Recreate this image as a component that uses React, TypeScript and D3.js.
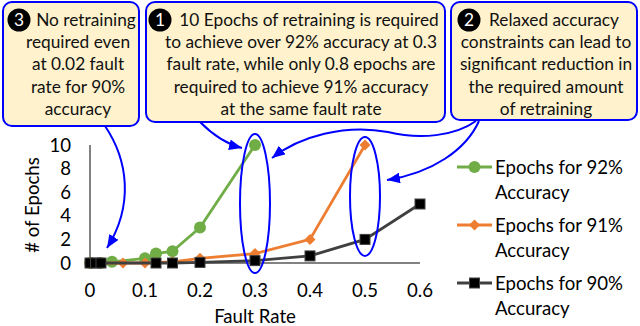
import React from 'react';
import * as d3 from 'd3';

const faultRates92 = [0, 0.02, 0.04, 0.1, 0.12, 0.15, 0.2, 0.3];
const epochs92 = [0, 0, 0.1, 0.4, 0.8, 1.0, 3.0, 10];
const faultRates91 = [0, 0.02, 0.06, 0.1, 0.12, 0.15, 0.2, 0.3, 0.4, 0.5];
const epochs91 = [0, 0, 0, 0, 0.05, 0.1, 0.4, 0.8, 2.0, 10];
const faultRates90 = [0, 0.01, 0.02, 0.12, 0.15, 0.2, 0.3, 0.4, 0.5, 0.6];
const epochs90 = [0, 0, 0, 0, 0, 0.05, 0.2, 0.6, 2.0, 5.0];

const xTicks = [0, 0.1, 0.2, 0.3, 0.4, 0.5, 0.6];
const yTicks = [0, 2, 4, 6, 8, 10];

const seriesNames = ['Epochs for 92%', 'Epochs for 91%', 'Epochs for 90%'];
const seriesColors = ['#70AD47', '#ED7D31', '#404040'];

const note3 = ['No retraining', 'required even', 'at 0.02 fault', 'rate for 90%', 'accuracy'];
const note1 = [
  '10 Epochs of retraining is required',
  'to achieve over 92% accuracy at 0.3',
  'fault rate, while only 0.8 epochs are',
  'required to achieve 91% accuracy',
  'at the same fault rate',
];
const note2 = [
  'Relaxed accuracy',
  'constraints can lead to',
  'significant reduction in',
  'the required amount',
  'of retraining',
];

const FONT = 'Lato, "Open Sans", sans-serif';
const BLUE = '#0000FF';
const BOX_FS = 17.3;
const AX_FS = 18.6;

function App() {
  const x = d3.scaleLinear().domain([0, 0.6]).range([90, 420]);
  const y = d3.scaleLinear().domain([0, 10]).range([263, 145]);

  const line = d3
    .line<[number, number]>()
    .x((d) => x(d[0]))
    .y((d) => y(d[1]));

  const series = [
    { pts: faultRates92.map((f, i) => [f, epochs92[i]] as [number, number]), shape: 'circle' },
    { pts: faultRates91.map((f, i) => [f, epochs91[i]] as [number, number]), shape: 'diamond' },
    { pts: faultRates90.map((f, i) => [f, epochs90[i]] as [number, number]), shape: 'square' },
  ];

  const marker = (shape: string, cx: number, cy: number, color: string, key: any) => {
    if (shape === 'circle') return <circle key={key} cx={cx} cy={cy} r={6} fill={color} />;
    if (shape === 'diamond')
      return (
        <path key={key} d={`M${cx},${cy - 5.5}L${cx + 5.5},${cy}L${cx},${cy + 5.5}L${cx - 5.5},${cy}Z`} fill={color} />
      );
    return <rect key={key} x={cx - 5} y={cy - 5} width={10} height={10} fill="#000" stroke="#404040" strokeWidth={1} />;
  };

  const box = (bx: number, by: number, bw: number, bh: number, lines: string[], cx: number, badge: string, badgeX: number, key: string) => (
    <g key={key}>
      <rect x={bx} y={by} width={bw} height={bh} rx={9} fill="#FFF2CC" stroke={BLUE} strokeWidth={2} />
      <circle cx={badgeX} cy={20} r={11.5} fill="#000" />
      <text x={badgeX} y={26.2} textAnchor="middle" fill="#fff" fontSize={BOX_FS} fontFamily={FONT}>
        {badge}
      </text>
      {lines.map((t, i) => (
        <text
          key={i}
          x={i === 0 ? cx + 8 : cx}
          y={26 + i * 22.2}
          textAnchor="middle"
          fontSize={BOX_FS}
          fontFamily={FONT}
          fill="#111"
        >
          {t}
        </text>
      ))}
    </g>
  );

  const ellipses = [
    { f: 0.3, top: 10.93, bottom: -0.85 },
    { f: 0.5, top: 10.68, bottom: 0.6 },
  ];

  return (
    <svg width={640} height={326} style={{ position: 'fixed', left: 0, top: 0, background: '#fff' }}>
      <defs>
        <marker id="ah" viewBox="0 0 12 10" refX={12} refY={5} markerWidth={13} markerHeight={11} markerUnits="userSpaceOnUse" orient="auto">
          <path d="M0,0L12,5L0,10Z" fill={BLUE} />
        </marker>
      </defs>

      {/* annotation boxes */}
      {box(3, 2, 136, 124, note3, 78, '3', 19, 'b3')}
      {box(146, 2, 299, 120, note1, 301, '1', 160, 'b1')}
      {box(451, 2, 186, 118, note2, 546, '2', 469, 'b2')}

      {/* axes */}
      <line x1={x(0)} x2={x(0)} y1={y(10)} y2={y(0)} stroke="#595959" strokeWidth={1.5} />
      <line x1={x(0)} x2={x(0.6)} y1={y(0)} y2={y(0)} stroke="#595959" strokeWidth={1.5} />
      {yTicks.map((t) => (
        <text key={t} x={71} y={y(t) + 6.5} textAnchor="end" fontSize={AX_FS} fontFamily={FONT} fill="#000">
          {t}
        </text>
      ))}
      {xTicks.map((t) => (
        <text key={t} x={x(t)} y={297} textAnchor="middle" fontSize={AX_FS} fontFamily={FONT} fill="#000">
          {t}
        </text>
      ))}
      <text x={255} y={323} textAnchor="middle" fontSize={AX_FS} fontFamily={FONT} fill="#000">
        Fault Rate
      </text>
      <text transform="translate(39,205) rotate(-90)" textAnchor="middle" fontSize={AX_FS} fontFamily={FONT} fill="#000">
        # of Epochs
      </text>

      {/* series */}
      {series.map((s, i) => (
        <g key={i}>
          <path d={line(s.pts) || ''} fill="none" stroke={seriesColors[i]} strokeWidth={2.8} />
          {s.pts.map((p, j) => marker(s.shape, x(p[0]), y(p[1]), seriesColors[i], j))}
        </g>
      ))}

      {/* legend */}
      {seriesNames.map((n, i) => {
        const ly = 167 + i * 58;
        return (
          <g key={n}>
            <line x1={457} x2={492} y1={ly} y2={ly} stroke={seriesColors[i]} strokeWidth={2.8} />
            {marker(series[i].shape, 474.5, ly, seriesColors[i], 'm')}
            <text x={495} y={ly + 6.5} fontSize={AX_FS} fontFamily={FONT} fill="#000">
              {n}
            </text>
            <text x={495} y={ly + 31.5} fontSize={AX_FS} fontFamily={FONT} fill="#000">
              Accuracy
            </text>
          </g>
        );
      })}

      {/* highlight ellipses */}
      {ellipses.map((e) => (
        <ellipse
          key={e.f}
          cx={x(e.f)}
          cy={(y(e.top) + y(e.bottom)) / 2}
          rx={15}
          ry={(y(e.bottom) - y(e.top)) / 2}
          fill="none"
          stroke={BLUE}
          strokeWidth={2}
        />
      ))}

      {/* arrows */}
      <g fill="none" stroke={BLUE} strokeWidth={2}>
        <path d="M105,126 C128,160 134,205 107,248" markerEnd="url(#ah)" />
        <path d="M200,122 C212,134 226,144 242,148" markerEnd="url(#ah)" />
        <path d="M476,121 C455,136 420,140 388,132 C345,124 300,136 272,158" markerEnd="url(#ah)" />
        <path d="M479,121 C466,150 432,173 387,180" markerEnd="url(#ah)" />
      </g>
    </svg>
  );
}

export default App;
